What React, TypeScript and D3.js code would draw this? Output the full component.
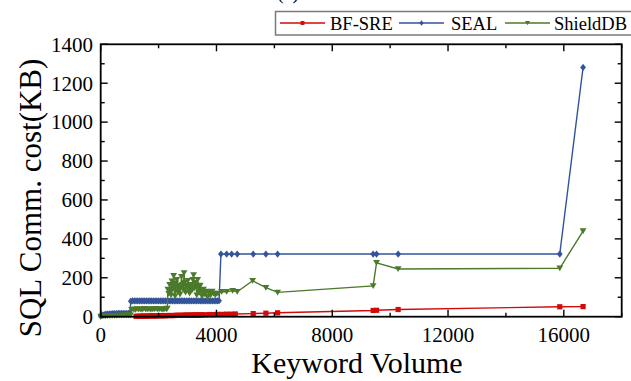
import React from 'react';
import * as d3 from 'd3';

// keyword volume / KB values
const sealX = [0, 60, 120, 180, 240, 300, 360, 420, 480, 540, 600, 660, 720, 780, 840, 900, 960, 1010,
  1040, 1100, 1160, 1220, 1280, 1340, 1400, 1460, 1520, 1580, 1640, 1700, 1760, 1820, 1880, 1940, 2000,
  2060, 2120, 2180, 2240, 2300, 2360, 2420, 2480, 2540, 2600, 2660, 2720, 2780, 2840, 2900, 2960, 3020,
  3080, 3140, 3200, 3260, 3320, 3380, 3440, 3500, 3560, 3620, 3680, 3740, 3800, 3860, 3920, 3980, 4040, 4090,
  4154, 4351, 4523, 4717, 5269, 5708, 6112, 9413, 9530, 10276, 15860, 16665];
const sealY = [3, 8, 11, 13, 14, 15, 15, 16, 16, 16, 17, 17, 17, 17, 17, 17, 17, 18,
  80, 81, 81, 81, 81, 81, 81, 81, 81, 81, 81, 81, 81, 81, 81, 81, 81,
  81, 81, 81, 81, 81, 81, 81, 81, 81, 81, 81, 81, 81, 81, 81, 81, 81,
  81, 81, 81, 81, 81, 81, 81, 81, 81, 81, 81, 81, 81, 81, 81, 81, 81, 82,
  322, 322, 322, 322, 322, 322, 322, 322, 322, 322, 322, 1281];

const shieldX = [0, 80, 160, 240, 320, 400, 480, 560, 640, 720, 800, 880, 960, 1030,
  1070, 1130, 1190, 1250, 1310, 1370, 1430, 1490, 1550, 1610, 1670, 1730, 1790, 1850, 1910, 1970, 2030,
  2090, 2150, 2210, 2270,
  2300, 2320, 2350, 2380, 2410, 2430, 2460, 2490, 2520, 2540, 2570, 2600, 2630, 2650, 2680, 2710, 2740,
  2770, 2790, 2820, 2850, 2880, 2900, 2930, 2960, 2990, 3010, 3040, 3070, 3100, 3120, 3150, 3180, 3210,
  3230, 3260, 3290, 3320, 3350, 3380, 3410, 3440, 3470, 3500, 3550, 3600, 3650, 3700, 3750, 3800,
  3850, 3900, 3960, 4050, 4178, 4351, 4558, 4717, 5249, 5708, 6112, 9413, 9530, 10276, 15860, 16665];
const shieldY = [1, 2, 3, 4, 4, 5, 5, 5, 6, 6, 6, 7, 7, 8,
  36, 38, 35, 40, 37, 39, 36, 41, 38, 37, 40, 36, 39, 38, 41, 37, 40,
  38, 36, 40, 39,
  42, 140, 118, 165, 128, 110, 182, 140, 210, 155, 105, 172, 190, 130, 160, 138, 115,
  150, 205, 165, 140, 225, 175, 125, 160, 150, 185, 140, 120, 165, 150, 135, 190, 215,
  145, 175, 160, 110, 190, 150, 125, 160, 135, 105, 140, 115, 130, 100, 125, 110,
  130, 120, 110, 120, 128, 128, 134, 128, 185, 149, 125, 158, 277, 245, 249, 440];

const bfX = [1220, 1280, 1340, 1400, 1460, 1520, 1580, 1640, 1700, 1760, 1820, 1880, 1940, 2000, 2060,
  2120, 2180, 2240, 2300, 2360, 2420, 2480, 2540, 2600, 2660, 2720, 2780, 2840, 2900, 2960, 3020, 3080,
  3140, 3200, 3260, 3320, 3380, 3440, 3500, 3620, 3760, 3900, 4050, 4200, 4350, 4500, 4650, 5269, 5708,
  6112, 9413, 9530, 10276, 15860, 16665];
const bfY = [2, 2, 2, 3, 3, 3, 3, 3, 4, 4, 4, 4, 4, 5, 5,
  5, 5, 5, 6, 6, 6, 6, 6, 7, 7, 7, 7, 7, 8, 8, 8, 8,
  8, 9, 9, 9, 9, 9, 10, 10, 11, 11, 12, 12, 13, 13, 14, 16, 18,
  20, 32, 33, 37, 51, 52];

const xTicks = [0, 4000, 8000, 12000, 16000];
const yTicks = [0, 200, 400, 600, 800, 1000, 1200, 1400];

const W = 631, H = 381;
const L = 100.7, R = 621.7, T = 44.3, B = 316.7;

const RED = '#d10a0a';
const BLUE = '#33549a';
const GREEN = '#4a7a2a';

const x = d3.scaleLinear().domain([0, 18000]).range([L, R]);
const y = d3.scaleLinear().domain([0, 1400]).range([B, T]);

const line = d3.line<[number, number]>().x(d => x(d[0])).y(d => y(d[1]));

function Marker({ kind, cx, cy, color, s = 1 }: { kind: string; cx: number; cy: number; color: string; s?: number }) {
  if (kind === 'square') {
    const h = 2.6 * s;
    return <rect x={cx - h} y={cy - h} width={2 * h} height={2 * h} fill={color} />;
  }
  if (kind === 'diamond') {
    const h = 3.6 * s;
    return <path d={`M${cx},${cy - h}L${cx + h * 0.8},${cy}L${cx},${cy + h}L${cx - h * 0.8},${cy}Z`} fill={color} />;
  }
  const h = 3.4 * s;
  return <path d={`M${cx - h},${cy - h * 0.8}L${cx + h},${cy - h * 0.8}L${cx},${cy + h * 0.9}Z`} fill={color} />;
}

const series = [
  { name: 'SEAL', xs: sealX, ys: sealY, color: BLUE, kind: 'diamond' },
  { name: 'ShieldDB', xs: shieldX, ys: shieldY, color: GREEN, kind: 'tri' },
  { name: 'BF-SRE', xs: bfX, ys: bfY, color: RED, kind: 'square' },
];

const legendItems = [
  { name: 'BF-SRE', color: RED, kind: 'square', x0: 280, tx: 330 },
  { name: 'SEAL', color: BLUE, kind: 'diamond', x0: 399, tx: 451 },
  { name: 'ShieldDB', color: GREEN, kind: 'tri', x0: 505, tx: 554 },
];

export default function App() {
  const font = '"Liberation Serif", "Times New Roman", serif';
  const xMinor = d3.range(0, 18001, 2000);
  const yMinor = d3.range(0, 1401, 100);
  return (
    <svg width={W} height={H} style={{ position: 'absolute', left: 0, top: 0, background: '#fff' }} fontFamily={font}>
      <text x={288} y={-1} fontSize={20} textAnchor="middle">(a)</text>

      {/* legend */}
      <rect x={275.5} y={11.5} width={400} height={23.5} fill="#fff" stroke="#7a7a7a" strokeWidth={1.5} />
      {legendItems.map(it => (
        <g key={it.name}>
          <line x1={it.x0} x2={it.x0 + 45} y1={23} y2={23} stroke={it.color} strokeWidth={1.3} />
          <Marker kind={it.kind} cx={it.x0 + 22.5} cy={23} color={it.color} s={0.75} />
          <text x={it.tx} y={30} fontSize={18.5}>{it.name}</text>
        </g>
      ))}

      {/* data */}
      {series.map(s => {
        const pts = s.xs.map((v, i) => [v, s.ys[i]] as [number, number]);
        return (
          <g key={s.name}>
            <path d={line(pts) || ''} fill="none" stroke={s.color} strokeWidth={1.4} />
            {pts.map((p, i) => (
              <Marker key={i} kind={s.kind} cx={x(p[0])} cy={y(p[1])} color={s.color} />
            ))}
          </g>
        );
      })}

      {/* frame and ticks */}
      <rect x={L} y={T} width={R - L} height={B - T} fill="none" stroke="#000" strokeWidth={1.8} />
      {xMinor.map(v => {
        const len = v % 4000 === 0 ? 7 : 4;
        return (
          <g key={'x' + v} stroke="#000" strokeWidth={1.4}>
            <line x1={x(v)} x2={x(v)} y1={B} y2={B - len} />
            <line x1={x(v)} x2={x(v)} y1={T} y2={T + len} />
          </g>
        );
      })}
      {yMinor.map(v => {
        const len = v % 200 === 0 ? 7 : 4;
        return (
          <g key={'y' + v} stroke="#000" strokeWidth={1.4}>
            <line x1={L} x2={L + len} y1={y(v)} y2={y(v)} />
            <line x1={R} x2={R - len} y1={y(v)} y2={y(v)} />
          </g>
        );
      })}
      {xTicks.map(v => (
        <text key={'xl' + v} x={x(v)} y={342} fontSize={21} textAnchor="middle">{v}</text>
      ))}
      {yTicks.map(v => (
        <text key={'yl' + v} x={93} y={y(v)} dy="0.35em" fontSize={21} textAnchor="end">{v}</text>
      ))}

      <text x={357} y={373} fontSize={30} textAnchor="middle">Keyword Volume</text>
      <text transform="translate(41,198) rotate(-90)" fontSize={31} textAnchor="middle">SQL Comm. cost(KB)</text>
    </svg>
  );
}
